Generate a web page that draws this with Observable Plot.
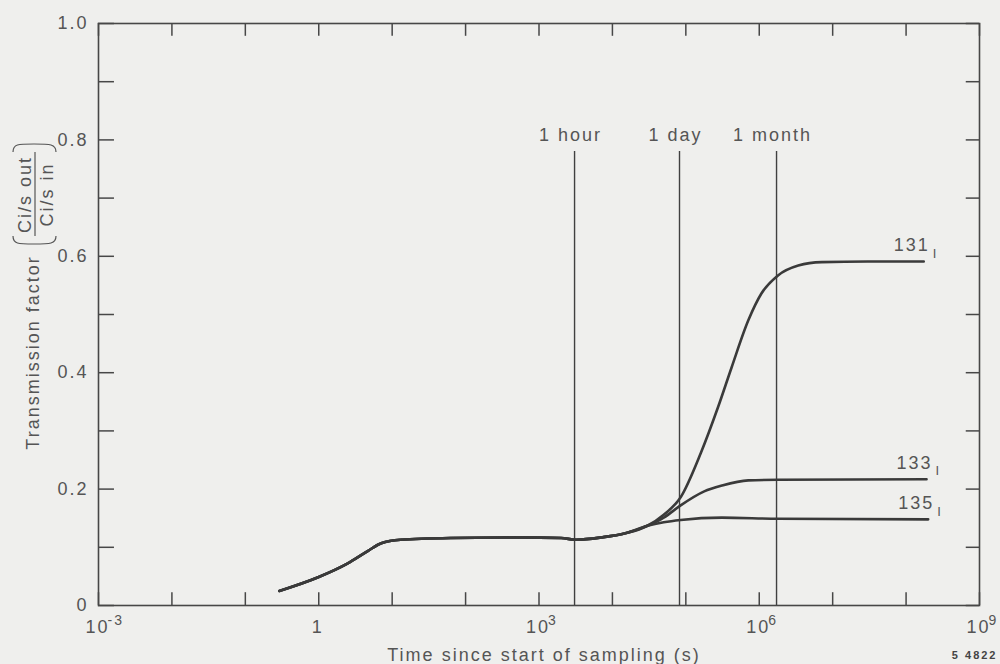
<!DOCTYPE html>
<html><head><meta charset="utf-8">
<script src="https://cdn.jsdelivr.net/npm/d3@7"></script>
<script src="https://cdn.jsdelivr.net/npm/@observablehq/plot@0.6"></script>
<style>html,body{margin:0;padding:0;background:#efefed;}</style>
</head><body><div id="chart"></div>
<script>
// ---- data (time in seconds, transmission factor) ----
const tCommon = [0.29, 1, 2.45, 4.7, 7.1, 13, 63, 510, 2000, 3200, 7100, 15000, 30000];
const vCommon = [0.025, 0.049, 0.072, 0.094, 0.107, 0.113, 0.116, 0.117, 0.116, 0.113, 0.117, 0.124, 0.137];
const t131 = [5e4, 8.5e4, 1.6e5, 2.75e5, 4.2e5, 7.1e5, 1.07e6, 1.8e6, 3.4e6, 7.1e6, 3e7, 1.74e8];
const v131 = [0.156, 0.186, 0.262, 0.341, 0.409, 0.490, 0.536, 0.567, 0.584, 0.590, 0.591, 0.591];
const t133 = [5e4, 8.5e4, 1.78e5, 3.1e5, 7.1e5, 1.8e6, 1.9e8];
const v133 = [0.151, 0.172, 0.196, 0.206, 0.215, 0.216, 0.217];
const t135 = [5e4, 8.5e4, 3.1e5, 1.8e6, 2e8];
const v135 = [0.143, 0.147, 0.151, 0.149, 0.148];
const isotopes = ["131", "133", "135"];

const markerNames = ["1 hour", "1 day", "1 month"];
const markerTimes = [3050, 82000, 1.72e6];
const markerTop = [0.78];

const xTicks = [1e-3, 1e-2, 1e-1, 1, 1e1, 1e2, 1e3, 1e4, 1e5, 1e6, 1e7, 1e8, 1e9];
const xLabelTicks = [1e-3, 1, 1e3, 1e6, 1e9];
const xLabelBase = ["10", "1", "10", "10", "10"];
const xLabelExp = ["-3", "", "3", "6", "9"];
const yTicks = [0, 0.1, 0.2, 0.3, 0.4, 0.5, 0.6, 0.7, 0.8, 0.9, 1.0];
const yLabels = [0, 0.2, 0.4, 0.6, 0.8, 1.0];
const yLabelText = ["0", "0.2", "0.4", "0.6", "0.8", "1.0"];

// ---- build tables ----
const branches = {"131": [t131, v131], "133": [t133, v133], "135": [t135, v135]};
const rows = [];
for (const iso of isotopes) {
  tCommon.forEach((t, i) => rows.push({iso, t, v: vCommon[i]}));
  const [tb, vb] = branches[iso];
  tb.forEach((t, i) => rows.push({iso, t, v: vb[i]}));
}
const ends = isotopes.map(iso => {
  const [tb, vb] = branches[iso];
  return {iso, t: tb[tb.length - 1], v: vb[vb.length - 1]};
});
const markers = markerNames.map((name, i) => ({name, t: markerTimes[i]}));

const ink = "#3a3a3a", txt = "#555";

const bracket = (index, scales, values, dim) => {
  const g = d3.create("svg:g").attr("fill", "none").attr("stroke", txt).attr("stroke-width", 1.2);
  g.append("path").attr("d", "M35,152V236");
  g.append("path").attr("d", "M13,236C13,244 18,244 34,244C50,244 56,244 56,236");
  g.append("path").attr("d", "M13,152C13,144 18,144 34,144C50,144 56,144 56,152");
  return g.node();
};

const chart = Plot.plot({
  width: 1000, height: 664,
  marginLeft: 98, marginRight: 21, marginTop: 23, marginBottom: 59,
  x: {type: "log", domain: [1e-3, 1e9], axis: null},
  y: {domain: [0, 1], axis: null},
  style: {fontFamily: "'Liberation Sans', Arial, Helvetica, sans-serif", fontSize: "18px",
          letterSpacing: "2px", background: "#efefed", color: ink},
  marks: [
    Plot.frame({stroke: "#474747", strokeWidth: 1.6}),
    Plot.ruleY(yTicks, {y: d => d, x1: 1e-3, x2: 1.65e-3, stroke: "#474747", strokeWidth: 1.5}),
    Plot.ruleY(yTicks, {y: d => d, x1: 6.6e8, x2: 1e9, stroke: "#474747", strokeWidth: 1.5}),
    Plot.ruleX(xTicks, {x: d => d, y1: 0, y2: 0.022, stroke: "#474747", strokeWidth: 1.5}),
    Plot.ruleX(xTicks, {x: d => d, y1: 0.978, y2: 1, stroke: "#474747", strokeWidth: 1.5}),
    Plot.axisY(yLabels, {anchor: "left", tickSize: 0, tickPadding: 10, fontSize: 18, fill: txt,
      tickFormat: d => yLabelText[yLabels.indexOf(d)], label: null}),
    Plot.text(xLabelTicks, {x: d => d, frameAnchor: "bottom", dy: 27, dx: -1,
      text: (d, i) => xLabelBase[i], fill: txt, fontSize: 18}),
    Plot.text(xLabelTicks, {x: d => d, frameAnchor: "bottom", dy: 19, dx: 9, textAnchor: "start",
      text: (d, i) => xLabelExp[i], fill: txt, fontSize: 14}),
    Plot.text(["Time since start of sampling (s)"], {frameAnchor: "bottom", dy: 55, dx: 5, fill: txt, fontSize: 18}),
    Plot.text(["5 4822"], {frameAnchor: "bottom-right", dx: 18, dy: 53, textAnchor: "end",
      fontWeight: "bold", fontSize: 11, fill: "#444"}),
    Plot.text(["Transmission factor"], {frameAnchor: "left", textAnchor: "middle", rotate: -90, dx: -65, dy: 38, fill: txt, fontSize: 18}),
    Plot.text(["Ci/s out"], {frameAnchor: "left", textAnchor: "middle", rotate: -90, dx: -73, dy: -120, fill: txt, fontSize: 18}),
    Plot.text(["Ci/s in"], {frameAnchor: "left", textAnchor: "middle", rotate: -90, dx: -51, dy: -120, fill: txt, fontSize: 18}),
    bracket,
    Plot.ruleX(markers, {x: "t", y1: 0, y2: markerTop[0], stroke: "#404040", strokeWidth: 1.4}),
    Plot.text(markers, {x: "t", y: () => markerTop[0], dy: -16, dx: -4, text: "name", fill: txt, fontSize: 18}),
    Plot.line(rows, {x: "t", y: "v", z: "iso", curve: "monotone-x", stroke: ink, strokeWidth: 2.6}),
    Plot.text(ends, {x: "t", y: "v", text: "iso", textAnchor: "end", dx: 6, dy: -16, fill: txt, fontSize: 18}),
    Plot.text(ends, {x: "t", y: "v", text: () => "I", textAnchor: "start", dx: 9, dy: -8, fill: txt, fontSize: 13})
  ]
});
document.getElementById("chart").appendChild(chart);
</script>
</body></html>
